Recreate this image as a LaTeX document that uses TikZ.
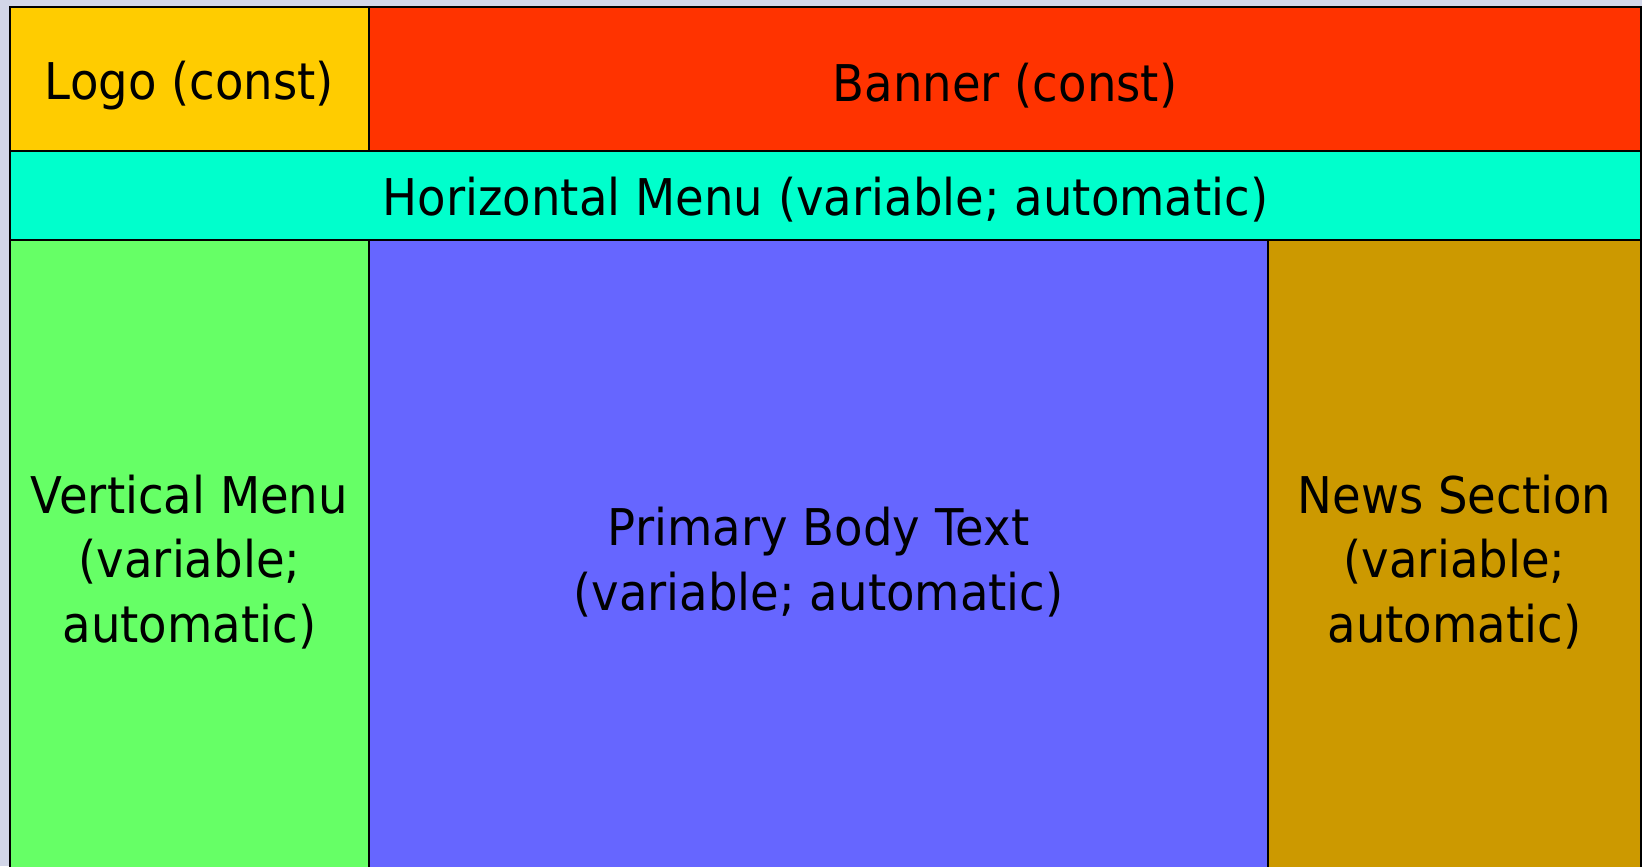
\documentclass[tikz,border=0pt]{standalone}
\usepackage{fontspec}
\setmainfont{DejaVu Sans}[FakeStretch=0.92]
\definecolor{logoyellow}{HTML}{FFCC00}
\definecolor{bannerred}{HTML}{FF3300}
\definecolor{menucyan}{HTML}{00FFCC}
\definecolor{vmenugreen}{HTML}{66FF66}
\definecolor{bodyblue}{HTML}{6666FF}
\definecolor{newsgold}{HTML}{CC9900}
\definecolor{pagegray}{HTML}{D2D6E8}
\begin{document}
\begin{tikzpicture}[x=0.01cm,y=-0.01cm]
\tikzstyle{every node}+=[inner sep=0pt,align=center,font=\fontsize{14.4}{18.3}\selectfont]
\tikzstyle{region}=[draw=black,line width=0.6pt]
\fill [pagegray] (0,0) rectangle (1642,866);
\clip (0,0) rectangle (1642,866);
\draw [region,fill=logoyellow] (10,7) rectangle (369,151);
\node (logo) at (189.5,86) {Logo (const)};
\draw [region,fill=bannerred] (369,7) rectangle (1641,151);
\node (banner) at (1005,86) {Banner (const)};
\draw [region,fill=menucyan] (10,151) rectangle (1641,240);
\node (hmenu) at (825.5,200) {Horizontal Menu (variable; automatic)};
\draw [region,fill=vmenugreen] (10,240) rectangle (369,890);
\node (vmenu) at (189.5,562) {Vertical Menu\\(variable;\\automatic)};
\draw [region,fill=bodyblue] (369,240) rectangle (1268,890);
\node (body) at (818.5,562) {Primary Body Text\\(variable; automatic)};
\draw [region,fill=newsgold] (1268,240) rectangle (1641,890);
\node (news) at (1454.5,562) {News Section\\(variable;\\automatic)};
\end{tikzpicture}
\end{document}
